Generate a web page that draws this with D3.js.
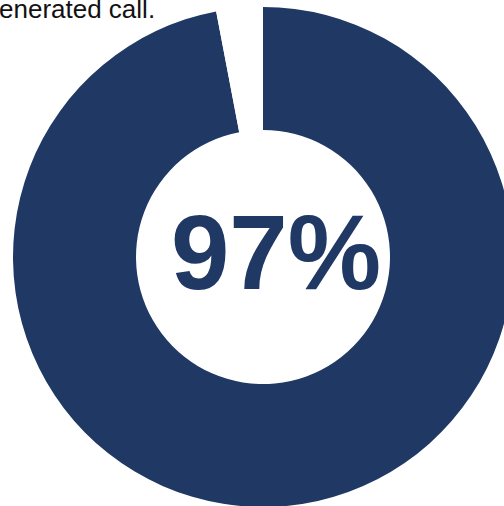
<!DOCTYPE html>
<html>
<head>
<meta charset="utf-8">
<script src="https://cdn.jsdelivr.net/npm/d3@7"></script>
<style>
  html, body { margin: 0; padding: 0; background: #fff; overflow: hidden; }
  svg { display: block; }
</style>
</head>
<body>
<div id="chartDiv"></div>
<script>
// data
const categories = ["Share", "Rest"];
const values = [97, 3];
const centerLabel = "97%";
const captionText = "enerated call.";

const width = 504, height = 506;
const cx = 263, cy = 257;
const outerR = 250, innerR = 127;
const navy = "#203864";

const svgObj = d3.select("#chartDiv").append("svg")
    .attr("width", width)
    .attr("height", height);

const pie = d3.pie().sort(null).value(d => d.value);
const arcGen = d3.arc().innerRadius(innerR).outerRadius(outerR);

const pieData = pie(categories.map((c, i) => ({ name: c, value: values[i] })));

const gObj = svgObj.append("g")
    .attr("transform", `translate(${cx},${cy})`);

gObj.selectAll("path")
    .data(pieData)
    .enter().append("path")
    .attr("d", arcGen)
    .attr("fill", (d, i) => i === 0 ? navy : "#ffffff");

// big number in the hole
gObj.append("text")
    .attr("x", 13)
    .attr("y", 32)
    .attr("text-anchor", "middle")
    .attr("font-family", "Liberation Sans, Arial, sans-serif")
    .attr("font-weight", "bold")
    .attr("font-size", 105)
    .attr("fill", navy)
    .text(centerLabel);

// cut-off caption at top
svgObj.append("text")
    .attr("x", -1)
    .attr("y", 18)
    .attr("font-family", "Liberation Sans, Arial, sans-serif")
    .attr("font-size", 26)
    .attr("fill", "#111")
    .text(captionText);
</script>
</body>
</html>
